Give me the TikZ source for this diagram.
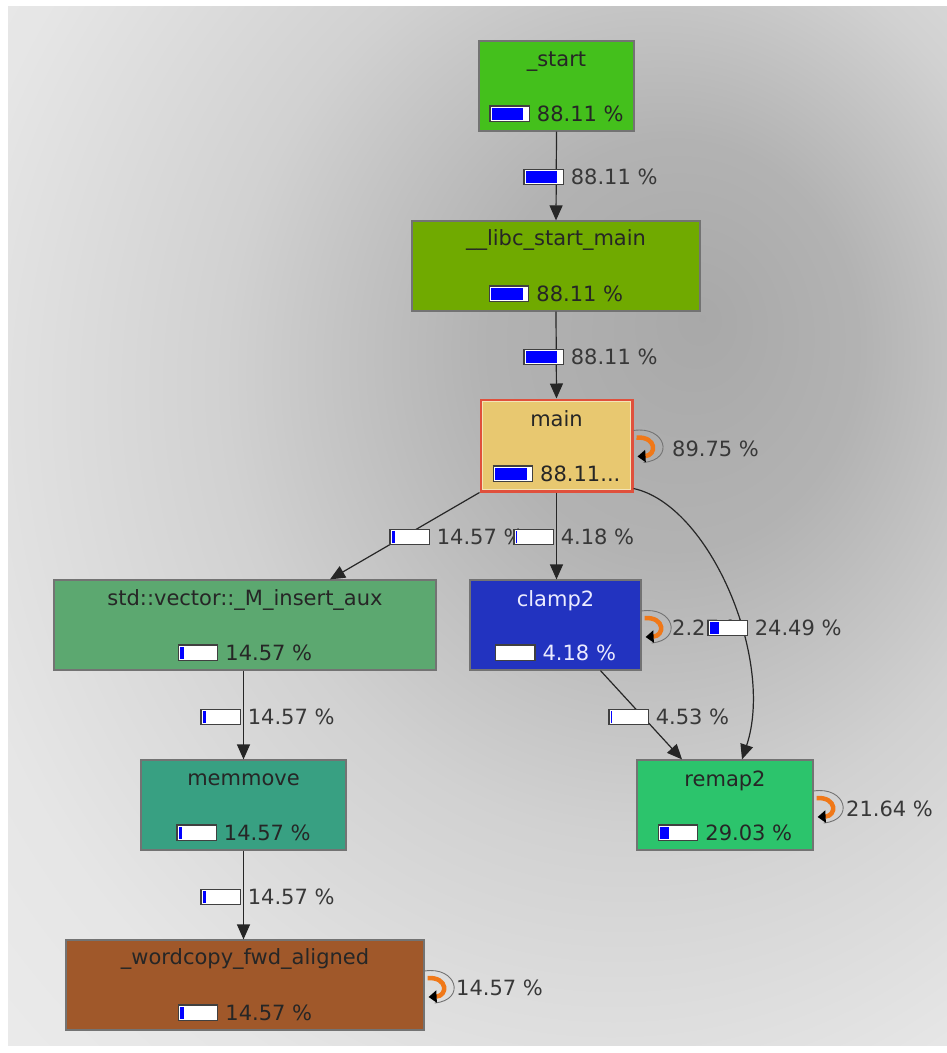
\documentclass[tikz,border=0pt]{standalone}
\usepackage{fontspec}
\setmainfont{DejaVu Sans}
\usetikzlibrary{arrows.meta,calc}
\definecolor{barframe}{HTML}{404040}
\definecolor{cstart}{HTML}{44C01C}
\definecolor{clibc}{HTML}{70AA00}
\definecolor{cmain}{HTML}{E8C870}
\definecolor{cmainb}{HTML}{E0503C}
\definecolor{cvec}{HTML}{5CA870}
\definecolor{cclamp}{HTML}{2233C0}
\definecolor{cmem}{HTML}{38A082}
\definecolor{cremap}{HTML}{2CC46C}
\definecolor{cword}{HTML}{A0582A}
\definecolor{cicon}{HTML}{F07818}
\newlength\pbw \setlength\pbw{36pt}
\newcommand\pbarbox[1]{{\setlength\fboxsep{1pt}\setlength\fboxrule{1.3pt}\raisebox{1.5pt}{\fcolorbox{barframe}{white}{\rlap{\textcolor{blue}{\rule{#1\pbw}{12pt}}}\hspace{\pbw}}}}}
\pgfdeclareradialshading{bgshade}{\pgfpoint{12bp}{10bp}}{color(0bp)=(black!34); color(10bp)=(black!30); color(22bp)=(black!18); color(35bp)=(black!10); color(50bp)=(black!6); color(75bp)=(black!4)}
\tikzset{
  fn/.style={draw=black!55, line width=1.2pt, minimum height=90pt, inner sep=0pt},
  ttl/.style={inner sep=0pt, text=black!85, font=\fontsize{21}{25}\selectfont},
  pct/.style={inner sep=0pt, text=black!85, font=\fontsize{21}{25}\selectfont},
  elabel/.style={anchor=west, inner sep=0pt, text=black!78, font=\fontsize{21}{25}\selectfont},
  edge/.style={draw=black!85, line width=1.2pt, -{Triangle[length=15pt,width=13pt]}},
  selfloop/.pic={
    \draw[line width=0.9pt, black!55] (0,-17) .. controls (32,-22) and (42,12) .. (10,15);
    \draw[line width=4.5pt, cicon, -{Triangle[length=8pt,width=12pt,black]}] (3,-10) .. controls (24,-11) and (23,8) .. (4,9);
  }
}
\begin{document}
\begin{tikzpicture}[x=1pt,y=-1pt]
\useasboundingbox[fill=white] (0,0) rectangle (947,1053);
\shade[shading=bgshade] (8,6) rectangle (947,1045);

% nodes
\node[fn, fill=cstart, minimum width=155pt] (start) at (556.5,86) {};
\node[fn, fill=clibc, minimum width=288pt] (libc) at (556,266) {};
\node[draw=cmainb, line width=3pt, fill=cmain, minimum width=151pt, minimum height=91pt, inner sep=0pt] (main) at (556.5,445.5) {};
\node[fn, fill=cvec, minimum width=382pt] (vec) at (245,625) {};
\node[fn, fill=cclamp, minimum width=171pt] (clamp) at (555.5,625) {};
\node[fn, fill=cmem, minimum width=205pt] (mem) at (243.5,805) {};
\node[fn, fill=cremap, minimum width=176pt] (remap) at (725,805) {};
\node[fn, fill=cword, minimum width=358pt] (word) at (245,985) {};
\draw[draw=cmain!50!white, line width=0.8pt] ($(main.north west)+(3,3)$) rectangle ($(main.south east)+(-3,-3)$);

% edges
\draw[edge] (start.south) -- (libc.north);
\draw[edge] (libc.south) -- (main.north);
\draw[edge] (main.south west) -- ($(vec.north)+(85,0)$);
\draw[edge] (main.south) -- (main.south |- clamp.north);
\draw[edge] ($(main.south east)+(0,-4)$) .. controls (710,505) and (775,660) .. ($(remap.north)+(17,0)$);
\draw[edge] ($(clamp.south)+(45,0)$) -- ($(remap.north)+(-43,0)$);
\draw[edge] (vec.south -| mem.north) -- (mem.north);
\draw[edge] (mem.south) -- (mem.south |- word.north);

% node texts
\node[ttl] (start-t) at ($(start.north)+(0,21)$) {\_start};
\node[pct] (start-p) at ($(start.south)+(0,-18)$) {\pbarbox{0.88}\hspace{7pt}88.11 \%};
\node[ttl] (libc-t) at ($(libc.north)+(0,20)$) {\_\_libc\_start\_main};
\node[pct] (libc-p) at ($(libc.south)+(0,-18)$) {\pbarbox{0.88}\hspace{7pt}88.11 \%};
\node[ttl] (main-t) at ($(main.north)+(0,20)$) {main};
\node[pct] (main-p) at ($(main.south)+(0,-19)$) {\pbarbox{0.88}\hspace{7pt}88.11...};
\node[ttl] (vec-t) at ($(vec.north)+(0,21)$) {std::vector::\_M\_insert\_aux};
\node[pct] (vec-p) at ($(vec.south)+(0,-18)$) {\pbarbox{0.1}\hspace{7pt}14.57 \%};
\node[ttl, text=white!92!blue] (clamp-t) at ($(clamp.north)+(0,21)$) {clamp2};
\node[pct, text=white!92!blue] (clamp-p) at ($(clamp.south)+(0,-18)$) {\pbarbox{0}\hspace{7pt}4.18 \%};
\node[ttl] (mem-t) at ($(mem.north)+(0,20)$) {memmove};
\node[pct] (mem-p) at ($(mem.south)+(0,-18)$) {\pbarbox{0.1}\hspace{7pt}14.57 \%};
\node[ttl] (remap-t) at ($(remap.north)+(0,21)$) {remap2};
\node[pct] (remap-p) at ($(remap.south)+(0,-18)$) {\pbarbox{0.25}\hspace{7pt}29.03 \%};
\node[ttl] (word-t) at ($(word.north)+(0,20)$) {\_wordcopy\_fwd\_aligned};
\node[pct] (word-p) at ($(word.south)+(0,-18)$) {\pbarbox{0.1}\hspace{7pt}14.57 \%};

% self loops
\pic at ($(main.east)+(0,2)$) {selfloop};
\pic at ($(clamp.east)+(0,3)$) {selfloop};
\pic at ($(remap.east)+(0,3)$) {selfloop};
\pic at ($(word.east)+(0,3)$) {selfloop};
\node[elabel] (main-s) at (672,449) {89.75 \%};
\node[elabel] (clamp-s) at (672,628) {2.27 \%};
\node[elabel] (remap-s) at (846,809) {21.64 \%};
\node[elabel] (word-s) at (456,988) {14.57 \%};

% edge labels
\node[elabel] (l1) at (523,177) {\pbarbox{0.88}\hspace{7pt}88.11 \%};
\node[elabel] (l2) at (523,357) {\pbarbox{0.88}\hspace{7pt}88.11 \%};
\node[elabel] (l3) at (389,537) {\pbarbox{0.1}\hspace{7pt}14.57 \%};
\node[elabel] (l4) at (513,537) {\pbarbox{0.04}\hspace{7pt}4.18 \%};
\node[elabel] (l5) at (707,628) {\pbarbox{0.25}\hspace{7pt}24.49 \%};
\node[elabel] (l6) at (608,717) {\pbarbox{0.05}\hspace{7pt}4.53 \%};
\node[elabel] (l7) at (200,717) {\pbarbox{0.1}\hspace{7pt}14.57 \%};
\node[elabel] (l8) at (200,897) {\pbarbox{0.1}\hspace{7pt}14.57 \%};
\end{tikzpicture}
\end{document}
